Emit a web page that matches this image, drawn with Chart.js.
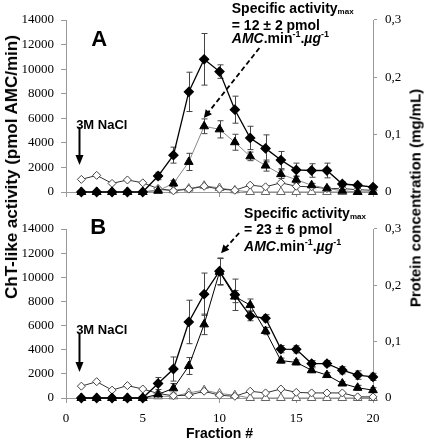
<!DOCTYPE html>
<html>
<head>
<meta charset="utf-8">
<script src="https://cdn.jsdelivr.net/npm/chart.js@4.4.0/dist/chart.umd.min.js"></script>
<style>
body { margin: 0; background: #fff; }
#wrap { position: relative; width: 425px; height: 444px; }
#chartA { position: absolute; left: 0; top: 0; }
#chartB { position: absolute; left: 0; top: 190px; }
.ytitle { position: absolute; font-family: "Liberation Sans", Arial, sans-serif; font-weight: bold; white-space: nowrap; color: #000;
          transform: translate(-50%, -50%) rotate(-90deg); }
</style>
</head>
<body>
<div id="wrap">
  <canvas id="chartA" width="425" height="210"></canvas>
  <canvas id="chartB" width="425" height="254"></canvas>
  <div class="ytitle" style="left:12px; top:167px; font-size:17px;">ChT-like activity (pmol AMC/min)</div>
  <div class="ytitle" style="left:415px; top:198px; font-size:15px;">Protein concentration (mg/mL)</div>
</div>
<script>
// fractions collected
const fractions = [1, 2, 3, 4, 5, 6, 7, 8, 9, 10, 11, 12, 13, 14, 15, 16, 17, 18, 19, 20];
const xTickValues = [0, 5, 10, 15, 20];
const activityTicks = [0, 2000, 4000, 6000, 8000, 10000, 12000, 14000];
const proteinTicks = ['0', '0,1', '0,2', '0,3'];

// panel A - ChT-like activity (left axis)
const actDiamondA = [0, 0, 0, 0, 0, 1300, 3000, 8150, 10800, 9800, 6700, 4400, 3550, 2600, 1800, 1750, 1750, 650, 550, 400];
const actDiamondErrA = [0, 0, 0, 0, 0, 300, 650, 1600, 2100, 550, 1100, 950, 1100, 700, 550, 550, 600, 200, 100, 100];
const actTriangleA = [0, 0, 0, 0, 0, 100, 700, 2450, 5350, 5100, 4050, 2900, 2150, 1450, 1000, 550, 300, 100, 0, 0];
const actTriangleErrA = [0, 0, 0, 0, 0, 100, 250, 700, 600, 700, 650, 350, 450, 350, 300, 150, 100, 0, 0, 0];
// panel A - protein (right axis, mg/mL)
const protDiamondA = [0.022, 0.029, 0.015, 0.021, 0.016, 0.006, 0.002, 0.005, 0.010, 0.005, 0.003, 0.012, 0.009, 0.016, 0.010, 0.009, 0.006, 0.006, 0.004, 0.003];
const protTriangleA = [0, 0, 0, 0, 0, 0.004, 0.003, 0.006, 0.011, 0.007, 0.003, 0, 0, 0, 0, 0, 0, 0, 0, 0];

// panel B
const actDiamondB = [0, 0, 0, 0, 0, 1200, 2400, 6300, 8600, 10500, 8550, 6800, 6600, 4050, 4030, 2850, 2850, 2300, 1900, 1750];
const actDiamondErrB = [0, 0, 0, 0, 0, 500, 1000, 1800, 1750, 1100, 1300, 400, 300, 300, 300, 250, 250, 300, 350, 300];
const actTriangleB = [0, 0, 0, 0, 0, 300, 800, 2650, 6100, 10450, 8400, 7700, 5550, 3100, 2950, 2300, 1900, 1200, 850, 650];
const actTriangleErrB = [0, 0, 0, 0, 0, 150, 400, 700, 850, 1100, 500, 500, 300, 200, 200, 200, 200, 150, 200, 200];
const protDiamondB = [0.021, 0.029, 0.014, 0.022, 0.016, 0.008, 0.004, 0.005, 0.012, 0.005, 0.003, 0.012, 0.009, 0.016, 0.010, 0.009, 0.009, 0.009, 0.002, 0.002];
const protTriangleB = [0, 0, 0, 0, 0, 0.003, 0.003, 0.009, 0.014, 0.008, 0.005, 0, 0, 0, 0, 0, 0, 0, 0, 0];

const SANS = '"Liberation Sans", Arial, sans-serif';
const SERIF = '"Liberation Serif", "Times New Roman", serif';

function pts(vals) {
    return fractions.map((f, i) => ({ x: f, y: vals[i] }));
}

// vertical error bars drawn under the markers
const errorBars = {
    id: 'errorBars',
    beforeDatasetsDraw(chart) {
        const ctx = chart.ctx;
        chart.data.datasets.forEach((ds, i) => {
            if (!ds.errors) return;
            const meta = chart.getDatasetMeta(i);
            const ys = chart.scales[ds.yAxisID];
            ctx.save();
            ctx.strokeStyle = '#444';
            ctx.lineWidth = 1;
            meta.data.forEach((pt, j) => {
                const e = ds.errors[j];
                if (!e) return;
                const v = ds.data[j].y;
                const top = ys.getPixelForValue(v + e);
                const bot = ys.getPixelForValue(v - e);
                const x = Math.round(pt.x) + 0.5;
                ctx.beginPath();
                ctx.moveTo(x, top); ctx.lineTo(x, bot);
                ctx.moveTo(x - 3, top); ctx.lineTo(x + 3, top);
                ctx.moveTo(x - 3, bot); ctx.lineTo(x + 3, bot);
                ctx.stroke();
            });
            ctx.restore();
        });
    }
};

function drawRuns(ctx, x, y, runs) {
    runs.forEach(r => {
        ctx.font = r.f;
        ctx.fillText(r.t, x, y + (r.dy || 0));
        x += ctx.measureText(r.t).width;
    });
}

function arrowHead(ctx, x1, y1, x2, y2, len, half) {
    const a = Math.atan2(y2 - y1, x2 - x1);
    ctx.beginPath();
    ctx.moveTo(x2, y2);
    ctx.lineTo(x2 - len * Math.cos(a) + half * Math.sin(a), y2 - len * Math.sin(a) - half * Math.cos(a));
    ctx.lineTo(x2 - len * Math.cos(a) - half * Math.sin(a), y2 - len * Math.sin(a) + half * Math.cos(a));
    ctx.closePath();
    ctx.fill();
}

// panel letter, salt arrow and specific activity note
const notes = {
    id: 'notes',
    afterDraw(chart, args, o) {
        const ctx = chart.ctx;
        const px = f => chart.scales.x.getPixelForValue(f);
        const py = v => chart.scales.y.getPixelForValue(v);
        ctx.save();
        ctx.fillStyle = '#000';
        ctx.strokeStyle = '#000';

        ctx.font = 'bold 22px ' + SANS;
        ctx.textAlign = 'center';
        ctx.textBaseline = 'middle';
        ctx.fillText(o.letter, px(o.letterAt[0]), py(o.letterAt[1]));

        ctx.textAlign = 'left';
        ctx.font = 'bold 13px ' + SANS;
        ctx.fillText('3M NaCl', px(o.saltAt[0]), py(o.saltAt[1]));
        const sx = Math.round(px(o.saltArrow[0])) + 0.5;
        const sy1 = py(o.saltArrow[1]), sy2 = py(o.saltArrow[2]);
        ctx.lineWidth = 2;
        ctx.beginPath(); ctx.moveTo(sx, sy1); ctx.lineTo(sx, sy2 - 8); ctx.stroke();
        arrowHead(ctx, sx, sy1, sx, sy2, 10, 4);

        const tx = px(o.noteAt[0]);
        const big = 'bold 14px ' + SANS;
        const sup = 'bold 9px ' + SANS;
        drawRuns(ctx, tx, py(o.noteAt[1]), [
            { t: 'Specific activity', f: big },
            { t: 'max', f: 'bold 8px ' + SANS, dy: 3 }
        ]);
        drawRuns(ctx, tx, py(o.noteAt[2]), [{ t: o.noteValue, f: big }]);
        drawRuns(ctx, tx, py(o.noteAt[3]), [
            { t: 'AMC', f: 'italic ' + big },
            { t: '.min', f: big },
            { t: '-1', f: sup, dy: -5 },
            { t: '.', f: big },
            { t: 'µg', f: 'italic ' + big },
            { t: '-1', f: sup, dy: -5 }
        ]);

        const ax1 = px(o.noteArrow[0]), ay1 = py(o.noteArrow[1]);
        const ax2 = px(o.noteArrow[2]), ay2 = py(o.noteArrow[3]);
        const ang = Math.atan2(ay2 - ay1, ax2 - ax1);
        ctx.lineWidth = 1.8;
        ctx.setLineDash([5, 3]);
        ctx.beginPath();
        ctx.moveTo(ax1, ay1);
        ctx.lineTo(ax2 - 7 * Math.cos(ang), ay2 - 7 * Math.sin(ang));
        ctx.stroke();
        ctx.setLineDash([]);
        arrowHead(ctx, ax1, ay1, ax2, ay2, 8, 4);
        ctx.restore();
    }
};

function makePanel(id, d, note, showX) {
    const axisGrey = '#999';
    return new Chart(document.getElementById(id), {
        type: 'line',
        data: {
            datasets: [
                {
                    data: pts(d.actDiamond), errors: d.actDiamondErr, yAxisID: 'y',
                    borderColor: '#000', borderWidth: 1.3, pointStyle: 'rectRot', pointRadius: 4.5,
                    pointBackgroundColor: '#000', pointBorderColor: '#000', clip: false
                },
                {
                    data: pts(d.actTriangle), errors: d.actTriangleErr, yAxisID: 'y',
                    borderColor: d.triLine, borderWidth: 1, pointStyle: 'triangle', pointRadius: 5,
                    pointBackgroundColor: '#000', pointBorderColor: '#000', clip: false
                },
                {
                    data: pts(d.protDiamond), yAxisID: 'y1',
                    borderColor: '#333', borderWidth: 1, pointStyle: 'rectRot', pointRadius: 4,
                    pointBackgroundColor: '#fff', pointBorderColor: '#444', clip: false
                },
                {
                    data: pts(d.protTriangle), yAxisID: 'y1',
                    borderColor: '#888', borderWidth: 1, pointStyle: 'triangle', pointRadius: 5,
                    pointBackgroundColor: '#fff', pointBorderColor: '#666', clip: false
                }
            ]
        },
        options: {
            responsive: false,
            animation: false,
            devicePixelRatio: 1,
            layout: { padding: { top: d.padTop, left: 0, right: 0, bottom: 0 } },
            plugins: { legend: { display: false }, tooltip: { enabled: false }, notes: note },
            elements: { line: { tension: 0 } },
            scales: {
                x: {
                    type: 'linear', min: 0, max: 20,
                    afterBuildTicks: s => { s.ticks = xTickValues.map(v => ({ value: v })); },
                    afterFit: s => { s.height = d.xHeight; },
                    border: { color: axisGrey },
                    grid: { drawOnChartArea: false, color: axisGrey, tickLength: 5 },
                    ticks: {
                        display: showX, color: '#000', padding: 8,
                        font: { family: SERIF, size: 13 },
                        callback: v => String(v)
                    },
                    title: {
                        display: showX, text: 'Fraction #', color: '#000',
                        font: { family: SANS, size: 14, weight: 'bold' },
                        padding: { top: 4, bottom: 1 }
                    }
                },
                y: {
                    position: 'left', min: 0, max: 14000,
                    afterBuildTicks: s => { s.ticks = activityTicks.map(v => ({ value: v })); },
                    afterFit: s => { s.width = 66; },
                    border: { color: axisGrey },
                    grid: { drawOnChartArea: false, color: axisGrey, tickLength: 5 },
                    ticks: {
                        color: '#000', padding: 7, font: { family: SERIF, size: 13 },
                        callback: v => String(v)
                    }
                },
                y1: {
                    position: 'right', min: 0, max: 0.3,
                    afterBuildTicks: s => { s.ticks = proteinTicks.map((t, i) => ({ value: i * 0.1 })); },
                    afterFit: s => { s.width = 52; },
                    border: { color: axisGrey },
                    grid: { drawOnChartArea: false, color: axisGrey, tickLength: 4 },
                    ticks: {
                        color: '#000', padding: 8, font: { family: SERIF, size: 13 },
                        callback: (v, i) => proteinTicks[i]
                    }
                }
            }
        },
        plugins: [errorBars, notes]
    });
}

makePanel('chartA', {
    actDiamond: actDiamondA, actDiamondErr: actDiamondErrA,
    actTriangle: actTriangleA, actTriangleErr: actTriangleErrA,
    protDiamond: protDiamondA, protTriangle: protTriangleA,
    triLine: '#888', padTop: 20, xHeight: 18
}, {
    letter: 'A', letterAt: [2.16, 12370],
    saltAt: [0.66, 5400], saltArrow: [0.85, 5290, 2200],
    noteAt: [10.8, 14900, 13500, 12450], noteValue: '= 12 ± 2 pmol',
    noteArrow: [12.6, 11720, 8.98, 6020]
}, false);

makePanel('chartB', {
    actDiamond: actDiamondB, actDiamondErr: actDiamondErrB,
    actTriangle: actTriangleB, actTriangleErr: actTriangleErrB,
    protDiamond: protDiamondB, protTriangle: protTriangleB,
    triLine: '#000', padTop: 39, xHeight: 46
}, {
    letter: 'B', letterAt: [2.1, 14080],
    saltAt: [0.66, 5600], saltArrow: [0.85, 5390, 2150],
    noteAt: [11.6, 15250, 13900, 12500], noteValue: '= 23 ± 6 pmol',
    noteArrow: [11.28, 13670, 10.1, 12000]
}, true);
</script>
</body>
</html>
